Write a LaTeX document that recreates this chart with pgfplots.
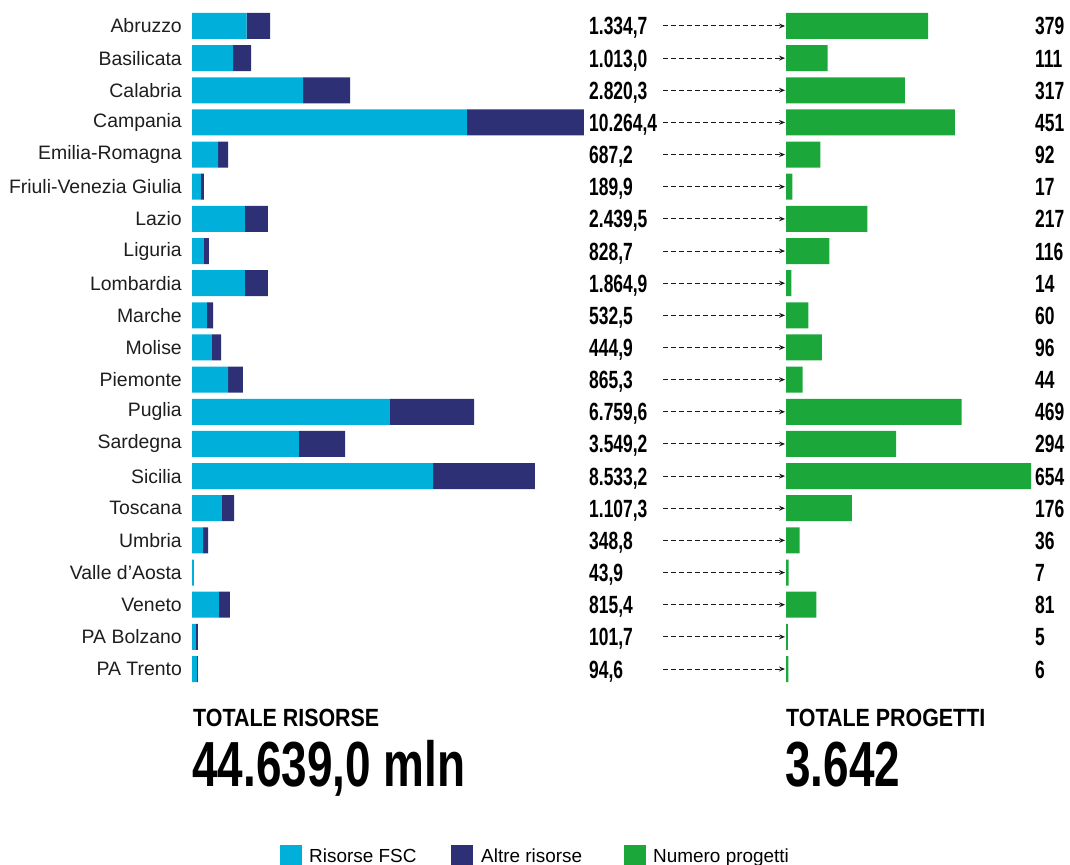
\documentclass[border=0pt]{standalone}
\usepackage{fontspec}
\setmainfont{Liberation Sans}
\newfontfamily\valfont[FakeStretch=0.70]{Liberation Sans}
\newfontfamily\headfont[FakeStretch=0.86]{Liberation Sans}
\newfontfamily\bigfont[FakeStretch=0.72]{Liberation Sans}
\usepackage{pgfplots}
\usepackage{pgfplotstable}
\pgfplotsset{compat=1.18}
\usetikzlibrary{arrows.meta}
\definecolor{fsc}{RGB}{0,176,218}
\definecolor{altre}{RGB}{46,48,118}
\definecolor{progetti}{RGB}{27,167,58}
\definecolor{lab}{RGB}{30,30,30}

% bar lengths (mln), label texts and project counts
\pgfplotstableread{
idx fsc altre tot n
0 1433 613 1.334,7 379
1 1074 471 1.013,0 111
2 2907 1234 2.820,3 317
3 7197 3067 10.264,4 451
4 681 262 687,2 92
5 230 81 189,9 17
6 1383 602 2.439,5 217
7 312 131 828,7 116
8 1383 602 1.864,9 14
9 390 162 532,5 60
10 521 241 444,9 96
11 943 390 865,3 44
12 5183 2205 6.759,6 469
13 2797 1213 3.549,2 294
14 6314 2666 8.533,2 654
15 783 320 1.107,3 176
16 291 131 348,8 36
17 50 0 43,9 7
18 702 291 815,4 81
19 100 52 101,7 5
20 131 21 94,6 6
}\data

\pgfplotsset{
  rows/.style={
    scale only axis,
    height=675.15bp,
    ymin=-0.5, ymax=20.5,
    y dir=reverse,
    enlargelimits=false,
    clip=false,
    anchor=north west,
  }
}

\begin{document}
\begin{tikzpicture}[x=1bp,y=1bp]
\useasboundingbox (0,0) rectangle (1070,865);

% left: stacked resources
\begin{axis}[rows,
  at={(192bp,855.075bp)},
  width=392bp,
  xmin=0, xmax=10264.4,
  xbar stacked,
  bar width=26bp,
  axis line style={draw=none},
  tick style={draw=none},
  xtick=\empty,
  ytick={0,...,20},
  yticklabels={Abruzzo,Basilicata,Calabria,Campania,Emilia-Romagna,Friuli-Venezia Giulia,Lazio,Liguria,Lombardia,Marche,Molise,Piemonte,Puglia,Sardegna,Sicilia,Toscana,Umbria,Valle d\symbol{39}Aosta,Veneto,PA Bolzano,PA Trento},
  yticklabel style={font=\fontsize{19.5}{19.5}\selectfont, color=lab, anchor=east, inner sep=0pt, xshift=-10bp},
]
\addplot[fill=fsc, draw=none] table[x=fsc, y=idx] {\data};
\addplot[fill=altre, draw=none] table[x=altre, y=idx] {\data};
\end{axis}

% right: number of projects
\begin{axis}[rows,
  at={(786bp,855.075bp)},
  width=245bp,
  xmin=0, xmax=654,
  xbar,
  bar width=26bp,
  hide axis,
]
\addplot[fill=progetti, draw=none] table[x=n, y=idx] {\data};
\end{axis}

% middle: value texts, dashed arrows, counts
\begin{axis}[rows,
  at={(0bp,855.075bp)},
  width=1070bp,
  xmin=0, xmax=1070,
  hide axis,
]
\addplot[draw=none, mark=none, nodes near coords, point meta=explicit symbolic,
  nodes near coords style={anchor=base west, inner sep=0pt, yshift=-9bp,
    font=\valfont\bfseries\fontsize{25}{25}\selectfont}]
  table[x expr=589, y=idx, meta=tot] {\data};
\addplot[draw=none, mark=none, nodes near coords, point meta=explicit symbolic,
  nodes near coords style={anchor=base west, inner sep=0pt, yshift=-9bp,
    font=\valfont\bfseries\fontsize{25}{25}\selectfont}]
  table[x expr=1035, y=idx, meta=n] {\data};
\addplot[black!90, line width=1bp, dash pattern=on 5bp off 3bp, mark=none,
  quiver={u=122, v=0}, -{Stealth[length=6bp, width=5bp]}]
  table[x expr=663, y=idx] {\data};
\end{axis}

% totals
\node[anchor=base west, inner sep=0pt] at (193,138) {\headfont\bfseries\fontsize{25}{25}\selectfont TOTALE RISORSE};
\node[anchor=base west, inner sep=0pt] at (192,78) {\bigfont\bfseries\fontsize{64}{64}\selectfont 44.639,0 mln};
\node[anchor=base west, inner sep=0pt] at (786,138) {\headfont\bfseries\fontsize{25}{25}\selectfont TOTALE PROGETTI};
\node[anchor=base west, inner sep=0pt] at (785,78) {\bigfont\bfseries\fontsize{64}{64}\selectfont 3.642};

% legend
\fill[fsc] (280,-1) rectangle (302,20);
\node[anchor=base west, inner sep=0pt, font=\fontsize{19}{19}\selectfont] at (309,2) {Risorse FSC};
\fill[altre] (451,-1) rectangle (473,20);
\node[anchor=base west, inner sep=0pt, font=\fontsize{19}{19}\selectfont] at (481,2) {Altre risorse};
\fill[progetti] (624,-1) rectangle (646,20);
\node[anchor=base west, inner sep=0pt, font=\fontsize{19}{19}\selectfont] at (653,2) {Numero progetti};
\end{tikzpicture}
\end{document}
